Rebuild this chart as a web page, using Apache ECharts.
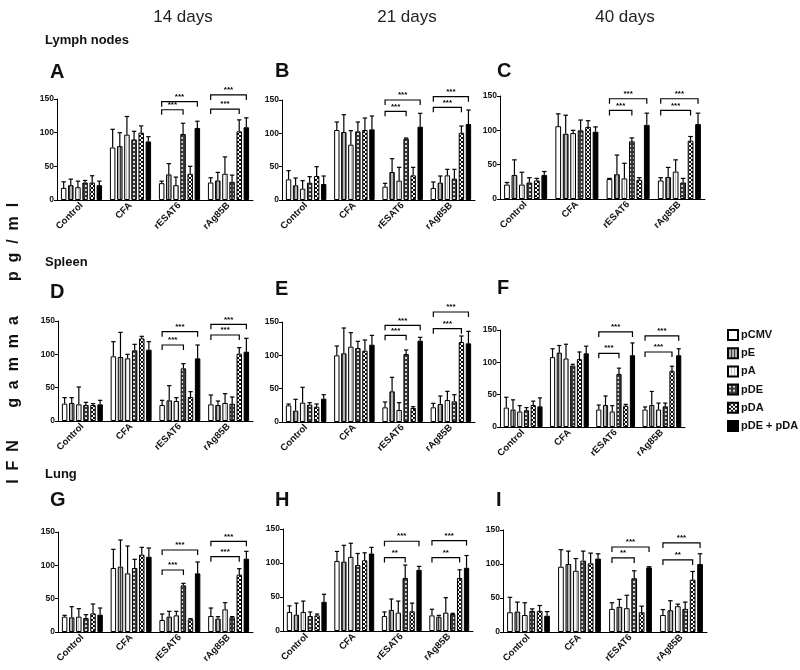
<!DOCTYPE html>
<html><head><meta charset="utf-8">
<script src="https://cdn.jsdelivr.net/npm/echarts@6/dist/echarts.min.js"></script>
<style>html,body{margin:0;padding:0;background:#fff}#c{width:800px;height:670px}</style>
</head><body><div id="c"></div>
<script>
// ---------- DATA ----------
const categories = ['Control', 'CFA', 'rESAT6', 'rAg85B'];
const seriesNames = ['pCMV', 'pE', 'pA', 'pDE', 'pDA', 'pDE + pDA'];
const panelLetters = ['A', 'B', 'C', 'D', 'E', 'F', 'G', 'H', 'I'];
const columnTitles = ['14 days', '21 days', '40 days'];
const rowTitles = ['Lymph nodes', 'Spleen', 'Lung'];
const yTicks = [0, 50, 100, 150];

// rows = categories, columns = series (pCMV, pE, pA, pDE, pDA, pDE + pDA)
const A_mean = [[18,22,19,26,26,22],[78,80,97,90,100,87],[25,38,22,98,39,107],[26,29,39,27,102,108]];
const A_err  = [[9,9,9,3,10,6],[27,20,27,12,10,7],[3,16,12,16,11,10],[7,12,25,10,17,14]];
const B_mean = [[31,22,17,26,36,24],[105,102,83,103,105,106],[20,42,29,92,37,110],[18,26,37,32,101,114]];
const B_err  = [[13,11,12,9,14,12],[12,26,21,14,18,20],[5,20,20,1,12,20],[9,10,9,14,10,21]];
const C_mean = [[21,35,21,24,27,35],[106,95,96,100,105,98],[29,36,30,84,28,108],[27,32,40,24,85,109]];
const C_err  = [[3,22,18,7,3,5],[18,27,4,15,9,7],[1,28,22,5,3,17],[4,14,17,6,6,16]];
const D_mean = [[26,27,25,24,24,25],[97,96,94,106,124,107],[24,31,30,79,36,94],[25,24,27,26,101,104]];
const D_err  = [[9,8,26,4,2,6],[22,37,6,9,3,12],[7,22,5,7,8,20],[14,6,14,10,9,20]];
const E_mean = [[25,17,29,26,23,35],[100,103,113,111,107,116],[22,46,18,102,21,122],[22,27,33,31,120,118]];
const E_err  = [[2,17,23,3,4,6],[14,38,21,10,16,14],[8,21,11,6,2,5],[6,12,13,10,9,18]];
const F_mean = [[30,27,24,26,34,32],[108,115,106,95,105,114],[27,34,24,82,33,111],[27,34,27,32,87,111]];
const F_err  = [[16,15,9,4,6,13],[13,11,22,2,11,11],[7,14,9,9,2,19],[4,21,10,5,7,10]];
const G_mean = [[23,22,23,21,28,26],[96,98,88,96,116,113],[18,23,25,70,19,88],[24,20,34,22,86,110]];
const G_err  = [[2,16,12,5,14,10],[28,40,41,13,11,13],[9,8,6,3,1,17],[12,3,10,1,9,11]];
const H_mean = [[28,24,28,22,23,43],[103,102,109,97,104,114],[22,31,27,78,29,90],[23,21,27,25,78,93]];
const H_err  = [[9,17,16,6,2,11],[14,24,20,17,11,9],[6,16,17,19,12,5],[9,2,22,1,12,18]];
const I_mean = [[29,30,25,31,31,24],[96,100,90,105,101,108],[34,37,35,79,29,95],[25,32,38,34,77,100]];
const I_err  = [[22,14,18,3,8,6],[25,19,18,14,15,7],[9,11,19,11,9,1],[8,14,3,10,12,15]];

// brackets: [category, fromSeries, toSeries, yValue, label]
const A_sig = [[2,0,3,134,'***'],[2,0,5,146,'***'],[3,0,4,135,'***'],[3,0,5,156,'***']];
const B_sig = [[2,0,3,133,'***'],[2,0,5,150,'***'],[3,0,4,139,'***'],[3,0,5,155,'***']];
const C_sig = [[2,0,3,129,'***'],[2,0,5,146,'***'],[3,0,4,129,'***'],[3,0,5,146,'***']];
const D_sig = [[2,0,3,114,'***'],[2,0,5,134,'***'],[3,0,4,129,'***'],[3,0,5,145,'***']];
const E_sig = [[2,0,3,130,'***'],[2,0,5,145,'***'],[3,0,4,140,'***'],[3,0,5,165,'***']];
const F_sig = [[2,0,3,114,'***'],[2,0,5,147,'***'],[3,0,4,116,'***'],[3,0,5,141,'***']];
const G_sig = [[2,0,3,93,'***'],[2,0,5,123,'***'],[3,0,4,113,'***'],[3,0,5,136,'***']];
const H_sig = [[2,0,3,108,'**'],[2,0,5,132,'***'],[3,0,4,108,'**'],[3,0,5,133,'***']];
const I_sig = [[2,0,3,109,'**'],[2,0,5,125,'***'],[3,0,4,106,'**'],[3,0,5,131,'***']];

const panelMeans = [A_mean,B_mean,C_mean,D_mean,E_mean,F_mean,G_mean,H_mean,I_mean];
const panelErrs  = [A_err,B_err,C_err,D_err,E_err,F_err,G_err,H_err,I_err];
const panelSigs  = [A_sig,B_sig,C_sig,D_sig,E_sig,F_sig,G_sig,H_sig,I_sig];

// ---------- LAYOUT / STYLE ----------
const FONT = "'Liberation Sans', Arial, sans-serif";
const grids = [
  {left:57, top:99, width:196, height:101},
  {left:282, top:100, width:193, height:100},
  {left:500, top:96, width:205, height:103},
  {left:58, top:321, width:195, height:100},
  {left:282, top:322, width:193, height:100},
  {left:500, top:330, width:185, height:97},
  {left:58, top:532, width:195, height:100},
  {left:283, top:529, width:190, height:102},
  {left:503, top:530, width:204, height:102}
];
const letterPos = [[50,72],[275,71],[497,71],[50,292],[275,289],[497,288],[50,500],[275,500],[496,500]];
const rowTitlePos = [40, 262, 474];
const colTitlePos = [183, 407, 625];
const CG = 0.16, BG = 0.3;

function pat(w, h, draw) {
  const c = document.createElement('canvas'); c.width = w; c.height = h;
  const g = c.getContext('2d'); draw(g);
  return {image: c, repeat: 'repeat'};
}
const fills = [
  '#ffffff',
  pat(3,3,g=>{g.fillStyle='#b4b4b4';g.fillRect(0,0,3,3);g.fillStyle='#3c3c3c';g.fillRect(0,0,1,3);}),
  pat(3,3,g=>{g.fillStyle='#f6f6f6';g.fillRect(0,0,3,3);g.fillStyle='#c4c4c4';g.fillRect(0,0,1,3);}),
  pat(4,4,g=>{g.fillStyle='#3a3a3a';g.fillRect(0,0,4,4);g.fillStyle='#d8d8d8';g.fillRect(1,1,2,2);}),
  pat(4,4,g=>{g.fillStyle='#ffffff';g.fillRect(0,0,4,4);g.fillStyle='#111';
    [[0,0],[1,1],[2,2],[3,3],[3,0],[2,1],[1,2],[0,3]].forEach(p=>g.fillRect(p[0],p[1],1,1));}),
  '#000000'
];

function barX(api, cat, s) {
  const c = api.coord([cat, 0])[0];
  const B = api.size([1, 0])[0];
  const usable = B * (1 - CG);
  const bw = usable / (6 + 5 * BG);
  return {x: c - usable / 2 + s * bw * (1 + BG) + bw / 2, bw};
}

const option = {
  animation: false,
  backgroundColor: '#fff',
  textStyle: {fontFamily: FONT},
  grid: grids,
  xAxis: grids.map((g, k) => ({
    type: 'category', gridIndex: k, data: categories,
    axisLine: {lineStyle: {color: '#000', width: 1}},
    axisTick: {alignWithLabel: true, length: 3, lineStyle: {color: '#000'}},
    axisLabel: {rotate: 45, interval: 0, fontSize: 9.5, fontWeight: 'bold', color: '#111', margin: 4, fontFamily: FONT}
  })),
  yAxis: grids.map((g, k) => ({
    type: 'value', gridIndex: k, min: yTicks[0], max: yTicks[yTicks.length-1], interval: 50,
    axisLine: {show: true, lineStyle: {color: '#000', width: 1}},
    axisTick: {show: true, length: 3, lineStyle: {color: '#000'}},
    splitLine: {show: false},
    axisLabel: {fontSize: 8.5, fontWeight: 'bold', color: '#111', margin: 3, fontFamily: FONT}
  })),
  legend: {
    data: seriesNames, orient: 'vertical', left: 722, top: 324,
    itemWidth: 10, itemHeight: 10, itemGap: 6.2, icon: 'rect', selectedMode: false,
    textStyle: {fontSize: 11, fontWeight: 'bold', color: '#111', fontFamily: FONT, padding: [0,0,0,-2]}
  },
  graphic: [],
  series: []
};

// titles
columnTitles.forEach((t, i) => option.graphic.push({type:'text', x: colTitlePos[i], y: 17,
  style:{text:t, textAlign:'center', textVerticalAlign:'middle', font:'17px ' + FONT, fill:'#222'}}));
rowTitles.forEach((t, i) => option.graphic.push({type:'text', x: 45, y: rowTitlePos[i],
  style:{text:t, textAlign:'left', textVerticalAlign:'middle', font:'bold 13px ' + FONT, fill:'#111'}}));
panelLetters.forEach((t, i) => option.graphic.push({type:'text', x: letterPos[i][0], y: letterPos[i][1],
  style:{text:t, textAlign:'left', textVerticalAlign:'middle', font:'bold 20px ' + FONT, fill:'#111'}}));
[['I  F  N', 462], ['g  a  m  m  a', 362], ['p  g  /  m  l', 242]].forEach(w => option.graphic.push({
  type:'text', x: 14, y: w[1], rotation: Math.PI / 2,
  style:{text:w[0], textAlign:'center', textVerticalAlign:'middle', font:'bold 16px ' + FONT, fill:'#111'}}));

// series
panelMeans.forEach((means, k) => {
  seriesNames.forEach((name, s) => {
    option.series.push({
      type: 'bar', name, xAxisIndex: k, yAxisIndex: k,
      data: categories.map((c, j) => means[j][s]),
      barGap: (BG*100) + '%', barCategoryGap: (CG*100) + '%',
      itemStyle: {color: fills[s], borderColor: '#000', borderWidth: 1},
      emphasis: {disabled: true}, z: 2
    });
  });
  const errs = panelErrs[k];
  const edata = [];
  categories.forEach((c, j) => seriesNames.forEach((n, s) => edata.push([j, means[j][s], s, errs[j][s]])));
  option.series.push({
    type: 'custom', xAxisIndex: k, yAxisIndex: k, z: 3, silent: true,
    encode: {x: 0, y: 1}, data: edata,
    renderItem: (params, api) => {
      const cat = api.value(0), m = api.value(1), s = api.value(2), e = api.value(3);
      const b = barX(api, cat, s);
      const y0 = api.coord([cat, m])[1], y1 = api.coord([cat, m + e])[1];
      const st = {stroke: '#000', lineWidth: 1.2};
      return {type: 'group', children: [
        {type: 'line', shape: {x1: b.x, y1: y0, x2: b.x, y2: y1}, style: st},
        {type: 'line', shape: {x1: b.x - b.bw * 0.4, y1: y1, x2: b.x + b.bw * 0.4, y2: y1}, style: st}
      ]};
    }
  });
  const sig = panelSigs[k];
  option.series.push({
    type: 'custom', xAxisIndex: k, yAxisIndex: k, z: 4, silent: true, clip: false,
    encode: {x: 0, y: 3}, data: sig.map(r => [r[0], r[1], r[2], r[3]]),
    renderItem: (params, api) => {
      const r = sig[params.dataIndex];
      const a = barX(api, r[0], r[1]), b = barX(api, r[0], r[2]);
      const y = api.coord([r[0], r[3]])[1];
      const st = {stroke: '#000', lineWidth: 1.2, fill: null};
      return {type: 'group', children: [
        {type: 'polyline', shape: {points: [[a.x, y + 5], [a.x, y], [b.x, y], [b.x, y + 5]]}, style: st},
        {type: 'text', x: (a.x + b.x) / 2, y: y - 1,
         style: {text: r[4], textAlign: 'center', textVerticalAlign: 'bottom', font: 'bold 8px ' + FONT, fill: '#000'}}
      ]};
    }
  });
});

const chart = echarts.init(document.getElementById('c'), null, {renderer: 'canvas'});
chart.setOption(option);
</script>
</body></html>
